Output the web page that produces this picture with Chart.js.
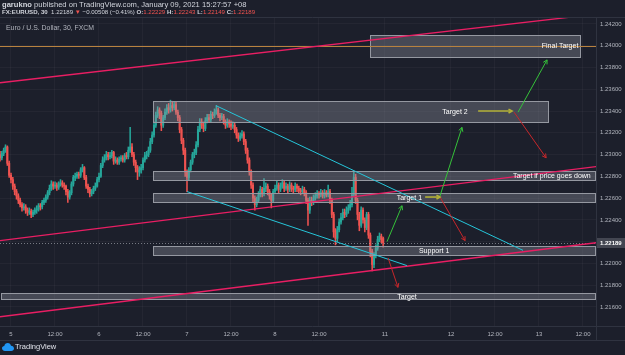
<!DOCTYPE html>
<html><head><meta charset="utf-8">
<script src="https://cdn.jsdelivr.net/npm/chart.js@4/dist/chart.umd.min.js"></script>
<style>
html,body{margin:0;padding:0;background:#1c1f2b;overflow:hidden;}
#wrap{position:relative;width:625px;height:355px;background:#1c1f2b;}
canvas{position:absolute;left:0;top:0;}
.t{position:absolute;white-space:nowrap;font-family:"Liberation Sans",Arial,sans-serif;color:#d1d4dc;line-height:1;}
.r{color:#ef5350;}
</style></head><body>
<div id="wrap">
<canvas id="c" width="625" height="355"></canvas>
<div class="t" style="left:2px;top:1px;font-size:7.6px;"><b>garukno</b> published on TradingView.com, January 09, 2021 15:27:57 +08</div>
<div class="t" style="left:2px;top:9px;font-size:6.1px;"><b>FX:EURUSD, 30</b>&nbsp; 1.22189 <span class="r">▼</span> −0.00508 (−0.41%) <b>O:</b><span class="r">1.22229</span> <b>H:</b><span class="r">1.22243</span> <b>L:</b><span class="r">1.22149</span> <b>C:</b><span class="r">1.22189</span></div>
<div class="t" style="left:6px;top:25px;font-size:6.9px;color:#b2b5be;">Euro / U.S. Dollar, 30, FXCM</div>
<div class="t" style="left:2px;top:343px;font-size:7.5px;color:#e0e3eb;display:flex;align-items:center;">
<svg width="12" height="8" viewBox="0 0 24 16"><path d="M6 16 C2 16 0 13 0 10.5 C0 8 2 6 4.5 6 C5 2.5 8 0 11.5 0 C15 0 17.5 2.5 18 5.5 C21.5 5.5 24 8 24 11 C24 14 21.5 16 18.5 16 Z" fill="#2196f3"/></svg><span style="margin-left:1px">TradingView</span></div>
</div>
<script>
// ---------- DATA ----------
const firstBar = -6; // bar index of first candle (30-min bars; 0 = Jan 5 00:00)
const opens = [
1.2300,1.2297,1.2301,1.2304,1.2307,1.2292,1.2281,1.2277,1.2271,1.2266,
1.2262,1.2258,1.2254,1.2251,1.2252,1.2249,1.2247,1.2248,1.2245,1.2247,
1.2249,1.2250,1.2253,1.2252,1.2256,1.2258,1.2261,1.2265,1.2269,1.2273,
1.2271,1.2272,1.2270,1.2273,1.2274,1.2272,1.2271,1.2266,1.2261,1.2265,
1.2273,1.2279,1.2280,1.2282,1.2281,1.2286,1.2288,1.2279,1.2271,1.2268,
1.2264,1.2266,1.2269,1.2271,1.2277,1.2280,1.2290,1.2295,1.2297,1.2300,
1.2298,1.2299,1.2302,1.2294,1.2295,1.2293,1.2296,1.2297,1.2295,1.2299,
1.2298,1.2304,1.2307,1.2300,1.2293,1.2288,1.2284,1.2286,1.2288,1.2295,
1.2299,1.2300,1.2304,1.2312,1.2318,1.2327,1.2336,1.2341,1.2338,1.2327,
1.2334,1.2339,1.2343,1.2341,1.2345,1.2343,1.2346,1.2339,1.2334,1.2323,
1.2313,1.2304,1.2284,1.2279,1.2286,1.2293,1.2300,1.2302,1.2309,1.2323,
1.2330,1.2327,1.2324,1.2331,1.2334,1.2332,1.2337,1.2336,1.2339,1.2341,
1.2336,1.2334,1.2335,1.2330,1.2327,1.2330,1.2328,1.2326,1.2327,1.2323,
1.2318,1.2315,1.2317,1.2319,1.2312,1.2304,1.2295,1.2284,1.2272,1.2260,
1.2254,1.2258,1.2263,1.2268,1.2264,1.2269,1.2271,1.2266,1.2262,1.2258,
1.2266,1.2269,1.2272,1.2268,1.2271,1.2274,1.2269,1.2271,1.2268,1.2272,
1.2269,1.2268,1.2271,1.2269,1.2267,1.2266,1.2268,1.2265,1.2258,1.2249,
1.2258,1.2256,1.2260,1.2262,1.2264,1.2263,1.2265,1.2262,1.2265,1.2263,
1.2266,1.2258,1.2245,1.2229,1.2223,1.2231,1.2238,1.2242,1.2247,1.2245,
1.2249,1.2251,1.2254,1.2263,1.2279,1.2258,1.2245,1.2235,1.2249,1.2240,
1.2233,1.2245,1.2226,1.2211,1.2199,1.2208,1.2214,1.2222,1.2225,1.22229];
const highs = [
1.2303,1.2303,1.2306,1.2309,1.2308,1.2294,1.2283,1.2279,1.2273,1.2268,
1.2264,1.2260,1.2256,1.2255,1.2254,1.2251,1.2251,1.2250,1.2249,1.2251,
1.2253,1.2255,1.2255,1.2258,1.2260,1.2263,1.2267,1.2272,1.2276,1.2275,
1.2275,1.2274,1.2275,1.2277,1.2276,1.2274,1.2272,1.2268,1.2267,1.2275,
1.2281,1.2283,1.2284,1.2284,1.2288,1.2291,1.2289,1.2281,1.2273,1.2270,
1.2268,1.2271,1.2274,1.2279,1.2283,1.2292,1.2298,1.2300,1.2303,1.2302,
1.2302,1.2304,1.2303,1.2298,1.2297,1.2298,1.2299,1.2299,1.2301,1.2302,
1.2307,1.2325,1.2310,1.2302,1.2295,1.2290,1.2289,1.2291,1.2297,1.2302,
1.2303,1.2307,1.2315,1.2321,1.2330,1.2339,1.2344,1.2343,1.2340,1.2336,
1.2342,1.2346,1.2347,1.2350,1.2349,1.2349,1.2348,1.2341,1.2336,1.2325,
1.2315,1.2306,1.2286,1.2288,1.2295,1.2302,1.2305,1.2312,1.2326,1.2333,
1.2333,1.2330,1.2334,1.2337,1.2337,1.2340,1.2339,1.2342,1.2345,1.2343,
1.2338,1.2338,1.2337,1.2332,1.2333,1.2332,1.2331,1.2330,1.2329,1.2325,
1.2320,1.2320,1.2322,1.2321,1.2314,1.2306,1.2297,1.2286,1.2274,1.2262,
1.2261,1.2266,1.2271,1.2270,1.2278,1.2274,1.2273,1.2268,1.2264,1.2268,
1.2272,1.2276,1.2274,1.2274,1.2277,1.2276,1.2274,1.2273,1.2275,1.2274,
1.2271,1.2274,1.2273,1.2271,1.2269,1.2271,1.2270,1.2267,1.2260,1.2261,
1.2261,1.2263,1.2265,1.2267,1.2266,1.2268,1.2267,1.2268,1.2267,1.2272,
1.2268,1.2260,1.2247,1.2232,1.2234,1.2241,1.2246,1.2250,1.2250,1.2252,
1.2254,1.2258,1.2270,1.2284,1.2282,1.2260,1.2247,1.2252,1.2251,1.2242,
1.2247,1.2247,1.2228,1.2213,1.2210,1.2217,1.2225,1.2228,1.2227,1.22243];
const lows = [
1.2294,1.2295,1.2299,1.2302,1.2290,1.2279,1.2274,1.2268,1.2263,1.2259,
1.2255,1.2252,1.2248,1.2249,1.2246,1.2244,1.2245,1.2242,1.2243,1.2245,
1.2246,1.2248,1.2249,1.2250,1.2254,1.2256,1.2259,1.2263,1.2267,1.2268,
1.2269,1.2267,1.2268,1.2271,1.2270,1.2268,1.2263,1.2256,1.2259,1.2263,
1.2271,1.2276,1.2278,1.2278,1.2279,1.2284,1.2277,1.2269,1.2265,1.2261,
1.2262,1.2264,1.2267,1.2270,1.2275,1.2279,1.2288,1.2293,1.2295,1.2295,
1.2296,1.2297,1.2291,1.2292,1.2291,1.2291,1.2294,1.2293,1.2293,1.2296,
1.2296,1.2302,1.2298,1.2290,1.2284,1.2277,1.2280,1.2283,1.2286,1.2293,
1.2296,1.2298,1.2302,1.2310,1.2316,1.2325,1.2334,1.2333,1.2322,1.2325,
1.2332,1.2337,1.2338,1.2339,1.2340,1.2341,1.2337,1.2331,1.2320,1.2310,
1.2300,1.2280,1.2266,1.2276,1.2284,1.2291,1.2297,1.2300,1.2307,1.2321,
1.2324,1.2321,1.2322,1.2329,1.2330,1.2330,1.2333,1.2334,1.2337,1.2334,
1.2331,1.2332,1.2328,1.2324,1.2325,1.2325,1.2323,1.2324,1.2320,1.2315,
1.2312,1.2313,1.2315,1.2309,1.2301,1.2292,1.2281,1.2269,1.2256,1.2249,
1.2252,1.2256,1.2261,1.2261,1.2262,1.2266,1.2263,1.2259,1.2251,1.2256,
1.2264,1.2267,1.2265,1.2266,1.2269,1.2266,1.2267,1.2265,1.2266,1.2266,
1.2265,1.2266,1.2266,1.2264,1.2263,1.2264,1.2262,1.2255,1.2235,1.2246,
1.2253,1.2254,1.2258,1.2260,1.2260,1.2261,1.2260,1.2260,1.2261,1.2261,
1.2255,1.2242,1.2224,1.2217,1.2220,1.2229,1.2236,1.2240,1.2242,1.2243,
1.2246,1.2249,1.2252,1.2261,1.2255,1.2240,1.2230,1.2233,1.2237,1.2229,
1.2231,1.2223,1.2206,1.2193,1.2196,1.2205,1.2212,1.2220,1.2219,1.22149];
const closes = [
1.2297,1.2301,1.2304,1.2307,1.2292,1.2281,1.2277,1.2271,1.2266,1.2262,
1.2258,1.2254,1.2251,1.2252,1.2249,1.2247,1.2248,1.2245,1.2247,1.2249,
1.2250,1.2253,1.2252,1.2256,1.2258,1.2261,1.2265,1.2269,1.2273,1.2271,
1.2272,1.2270,1.2273,1.2274,1.2272,1.2271,1.2266,1.2261,1.2265,1.2273,
1.2279,1.2280,1.2282,1.2281,1.2286,1.2288,1.2279,1.2271,1.2268,1.2264,
1.2266,1.2269,1.2271,1.2277,1.2280,1.2290,1.2295,1.2297,1.2300,1.2298,
1.2299,1.2302,1.2294,1.2295,1.2293,1.2296,1.2297,1.2295,1.2299,1.2298,
1.2304,1.2307,1.2300,1.2293,1.2288,1.2284,1.2286,1.2288,1.2295,1.2299,
1.2300,1.2304,1.2312,1.2318,1.2327,1.2336,1.2341,1.2338,1.2327,1.2334,
1.2339,1.2343,1.2341,1.2345,1.2343,1.2346,1.2339,1.2334,1.2323,1.2313,
1.2304,1.2284,1.2279,1.2286,1.2293,1.2300,1.2302,1.2309,1.2323,1.2330,
1.2327,1.2324,1.2331,1.2334,1.2332,1.2337,1.2336,1.2339,1.2341,1.2336,
1.2334,1.2335,1.2330,1.2327,1.2330,1.2328,1.2326,1.2327,1.2323,1.2318,
1.2315,1.2317,1.2319,1.2312,1.2304,1.2295,1.2284,1.2272,1.2260,1.2254,
1.2258,1.2263,1.2268,1.2264,1.2269,1.2271,1.2266,1.2262,1.2258,1.2266,
1.2269,1.2272,1.2268,1.2271,1.2274,1.2269,1.2271,1.2268,1.2272,1.2269,
1.2268,1.2271,1.2269,1.2267,1.2266,1.2268,1.2265,1.2258,1.2249,1.2258,
1.2256,1.2260,1.2262,1.2264,1.2263,1.2265,1.2262,1.2265,1.2263,1.2266,
1.2258,1.2245,1.2229,1.2223,1.2231,1.2238,1.2242,1.2247,1.2245,1.2249,
1.2251,1.2254,1.2263,1.2279,1.2258,1.2245,1.2235,1.2249,1.2240,1.2233,
1.2245,1.2226,1.2211,1.2199,1.2208,1.2214,1.2222,1.2225,1.2222,1.22189];

const xTickPos    = [0, 24, 48, 72, 96, 120, 144, 168, 204, 240, 264, 288, 312];
const xTickLabels = ['5','12:00','6','12:00','7','12:00','8','12:00','11','12','12:00','13','12:00'];
const yTickVals   = [1.216,1.218,1.220,1.222,1.224,1.226,1.228,1.230,1.232,1.234,1.236,1.238,1.240,1.242];
const lastPrice   = 1.22189;

// rectangles (zones)
const zoneLabels = ['Final Target','Target 2','Target if price goes down','Target 1','Support 1','Target'];
const zoneStart  = [195.9, 77.5, 77.5, 77.5, 77.5, -5.5];
const zoneEnd    = [310.4, 293.0, 318.6, 318.6, 318.6, 318.6];
const zoneTop    = [1.2410, 1.2349, 1.2285, 1.2265, 1.2216, 1.2173];
const zoneBottom = [1.2390, 1.2330, 1.2277, 1.2256, 1.2208, 1.2167];
const zoneLabelX = [299.5, 242.2, 295.0, 217.3, 230.8, 216.0];

const levelPrice = 1.2400;

// channel lines (pink)
const channelX1 = [-6, -6, -6];
const channelY1 = [1.2366, 1.2221, 1.2151];
const channelX2 = [319.1, 319.1, 319.1];
const channelY2 = [1.2429, 1.2289, 1.2219];
// wedge lines (cyan)
const wedgeX1 = [111.8, 96.0];
const wedgeY1 = [1.2345, 1.2266];
const wedgeX2 = [279.3, 216.0];
const wedgeY2 = [1.2212, 1.2198];

// arrows
const arrowKind = ['up','up','up','down','down','down','mark','mark'];
const arrowX1 = [205.1, 234.0, 276.6, 274.4, 234.0, 205.7, 225.9, 254.8];
const arrowY1 = [1.2220, 1.2262, 1.2339, 1.2339, 1.2261, 1.2205, 1.2261, 1.2340];
const arrowX2 = [213.3, 246.0, 292.4, 291.9, 247.7, 211.1, 234.0, 273.3];
const arrowY2 = [1.2253, 1.2325, 1.2387, 1.2297, 1.2221, 1.2178, 1.2261, 1.2340];

// ---------- CHART ----------
Chart.defaults.font.family = '"Liberation Sans", Arial, sans-serif';
const UP = '#26a69a', DN = '#ef5350';
const xs = closes.map((_, k) => firstBar + k);
const candleColor = closes.map((c, k) => c >= opens[k] ? UP : DN);
const arrowColor = {up:'#36c23a', down:'#c8272b', mark:'#b4b238'};

const overlay = {
  id: 'overlay',
  afterDatasetsDraw(chart) {
    const {ctx, chartArea: a, scales: {x, y}} = chart;
    const X = v => x.getPixelForValue(v), Y = v => y.getPixelForValue(v);
    ctx.save();
    ctx.beginPath(); ctx.rect(a.left, a.top, a.right - a.left, a.bottom - a.top); ctx.clip();
    // last price dotted line
    const yp = Math.round(Y(lastPrice)) + 0.5;
    ctx.strokeStyle = 'rgba(178,181,190,0.6)'; ctx.lineWidth = 1; ctx.setLineDash([1, 2]);
    ctx.beginPath(); ctx.moveTo(a.left, yp); ctx.lineTo(a.right, yp); ctx.stroke();
    ctx.setLineDash([]);
    // zones
    zoneLabels.forEach((lab, k) => {
      const x1 = Math.round(X(zoneStart[k])) + 0.5, x2 = Math.round(X(zoneEnd[k])) + 0.5;
      const y1 = Math.round(Y(zoneTop[k])) + 0.5, y2 = Math.round(Y(zoneBottom[k])) + 0.5;
      ctx.fillStyle = 'rgba(150,153,164,0.35)';
      ctx.fillRect(x1, y1, x2 - x1, y2 - y1);
      ctx.strokeStyle = '#9598a1'; ctx.lineWidth = 1;
      ctx.strokeRect(x1, y1, x2 - x1, y2 - y1);
    });
    // level line
    const yl = Math.round(Y(levelPrice)) + 0.5;
    ctx.strokeStyle = '#b8823f'; ctx.lineWidth = 1;
    ctx.beginPath(); ctx.moveTo(a.left, yl); ctx.lineTo(a.right, yl); ctx.stroke();
    // channel lines
    ctx.strokeStyle = '#e91e63'; ctx.lineWidth = 1.3;
    channelX1.forEach((_, k) => {
      ctx.beginPath(); ctx.moveTo(X(channelX1[k]), Y(channelY1[k])); ctx.lineTo(X(channelX2[k]), Y(channelY2[k])); ctx.stroke();
    });
    // wedge lines
    ctx.strokeStyle = '#26c6da'; ctx.lineWidth = 1;
    wedgeX1.forEach((_, k) => {
      ctx.beginPath(); ctx.moveTo(X(wedgeX1[k]), Y(wedgeY1[k])); ctx.lineTo(X(wedgeX2[k]), Y(wedgeY2[k])); ctx.stroke();
    });
    // arrows
    arrowKind.forEach((kind, k) => {
      const x1 = X(arrowX1[k]), y1 = Y(arrowY1[k]), x2 = X(arrowX2[k]), y2 = Y(arrowY2[k]);
      ctx.strokeStyle = arrowColor[kind]; ctx.lineWidth = kind === 'mark' ? 1.6 : 1;
      ctx.beginPath(); ctx.moveTo(x1, y1); ctx.lineTo(x2, y2); ctx.stroke();
      const ang = Math.atan2(y2 - y1, x2 - x1), h = kind === 'mark' ? 4 : 4.5;
      ctx.beginPath();
      ctx.moveTo(x2 - h * Math.cos(ang - 0.5), y2 - h * Math.sin(ang - 0.5));
      ctx.lineTo(x2, y2);
      ctx.lineTo(x2 - h * Math.cos(ang + 0.5), y2 - h * Math.sin(ang + 0.5));
      ctx.stroke();
    });
    // zone labels
    ctx.fillStyle = '#ffffff'; ctx.font = '7px "Liberation Sans", Arial, sans-serif';
    ctx.textAlign = 'center'; ctx.textBaseline = 'middle';
    zoneLabels.forEach((lab, k) => {
      ctx.fillText(lab, X(zoneLabelX[k]), (Y(zoneTop[k]) + Y(zoneBottom[k])) / 2 + 0.5);
    });
    ctx.restore();
  },
  afterDraw(chart) {
    const {ctx, chartArea: a, scales: {y}} = chart;
    ctx.save();
    ctx.strokeStyle = '#2f3340'; ctx.lineWidth = 1;
    ctx.beginPath();
    ctx.moveTo(0, a.top - 0.5); ctx.lineTo(625, a.top - 0.5);
    ctx.moveTo(0, a.bottom + 0.5); ctx.lineTo(625, a.bottom + 0.5);
    ctx.moveTo(0, a.bottom + 14.5); ctx.lineTo(625, a.bottom + 14.5);
    ctx.moveTo(a.right + 0.5, a.top); ctx.lineTo(a.right + 0.5, a.bottom + 14);
    ctx.stroke();
    // last price label on axis
    const yp = Math.round(y.getPixelForValue(lastPrice));
    ctx.fillStyle = '#434651';
    ctx.fillRect(a.right + 1, yp - 5, 625 - a.right - 1, 10);
    ctx.fillStyle = '#ffffff'; ctx.font = 'bold 6px "Liberation Sans", Arial, sans-serif';
    ctx.textAlign = 'left'; ctx.textBaseline = 'middle';
    ctx.fillText(lastPrice.toFixed(5), a.right + 4, yp + 0.5);
    ctx.restore();
  }
};

new Chart(document.getElementById('c'), {
  type: 'bar',
  data: {
    datasets: [
      {label: 'wick', data: xs.map((v, k) => ({x: v, y: [lows[k], highs[k]]})),
       backgroundColor: candleColor, barThickness: 0.9, grouped: false, order: 2},
      {label: 'body', data: xs.map((v, k) => ({x: v, y: [opens[k], closes[k]]})),
       backgroundColor: candleColor, barThickness: 1.4, minBarLength: 1, grouped: false, order: 1}
    ]
  },
  options: {
    responsive: false, animation: false, devicePixelRatio: 1,
    layout: {padding: {top: 18, left: 0, right: 0, bottom: 0}},
    plugins: {legend: {display: false}, tooltip: {enabled: false}},
    scales: {
      x: {
        type: 'linear', min: -6, max: 319.1, offset: false,
        grid: {color: 'rgba(255,255,255,0.035)', drawTicks: false, offset: false},
        border: {display: false},
        afterBuildTicks: s => { s.ticks = xTickPos.map(v => ({value: v})); },
        afterFit: s => { s.height = 29; },
        ticks: {autoSkip: false, maxRotation: 0, padding: 5, color: '#b2b5be', font: {size: 6},
                callback: (v, i) => xTickLabels[i]}
      },
      y: {
        type: 'linear', position: 'right', min: 1.21425, max: 1.24255,
        grid: {color: 'rgba(255,255,255,0.035)', drawTicks: false},
        border: {display: false},
        afterBuildTicks: s => { s.ticks = yTickVals.map(v => ({value: v})); },
        afterFit: s => { s.width = 29; },
        ticks: {padding: 4, color: '#b2b5be', font: {size: 6}, callback: v => Number(v).toFixed(5)}
      }
    }
  },
  plugins: [overlay]
});
</script>
</body></html>
